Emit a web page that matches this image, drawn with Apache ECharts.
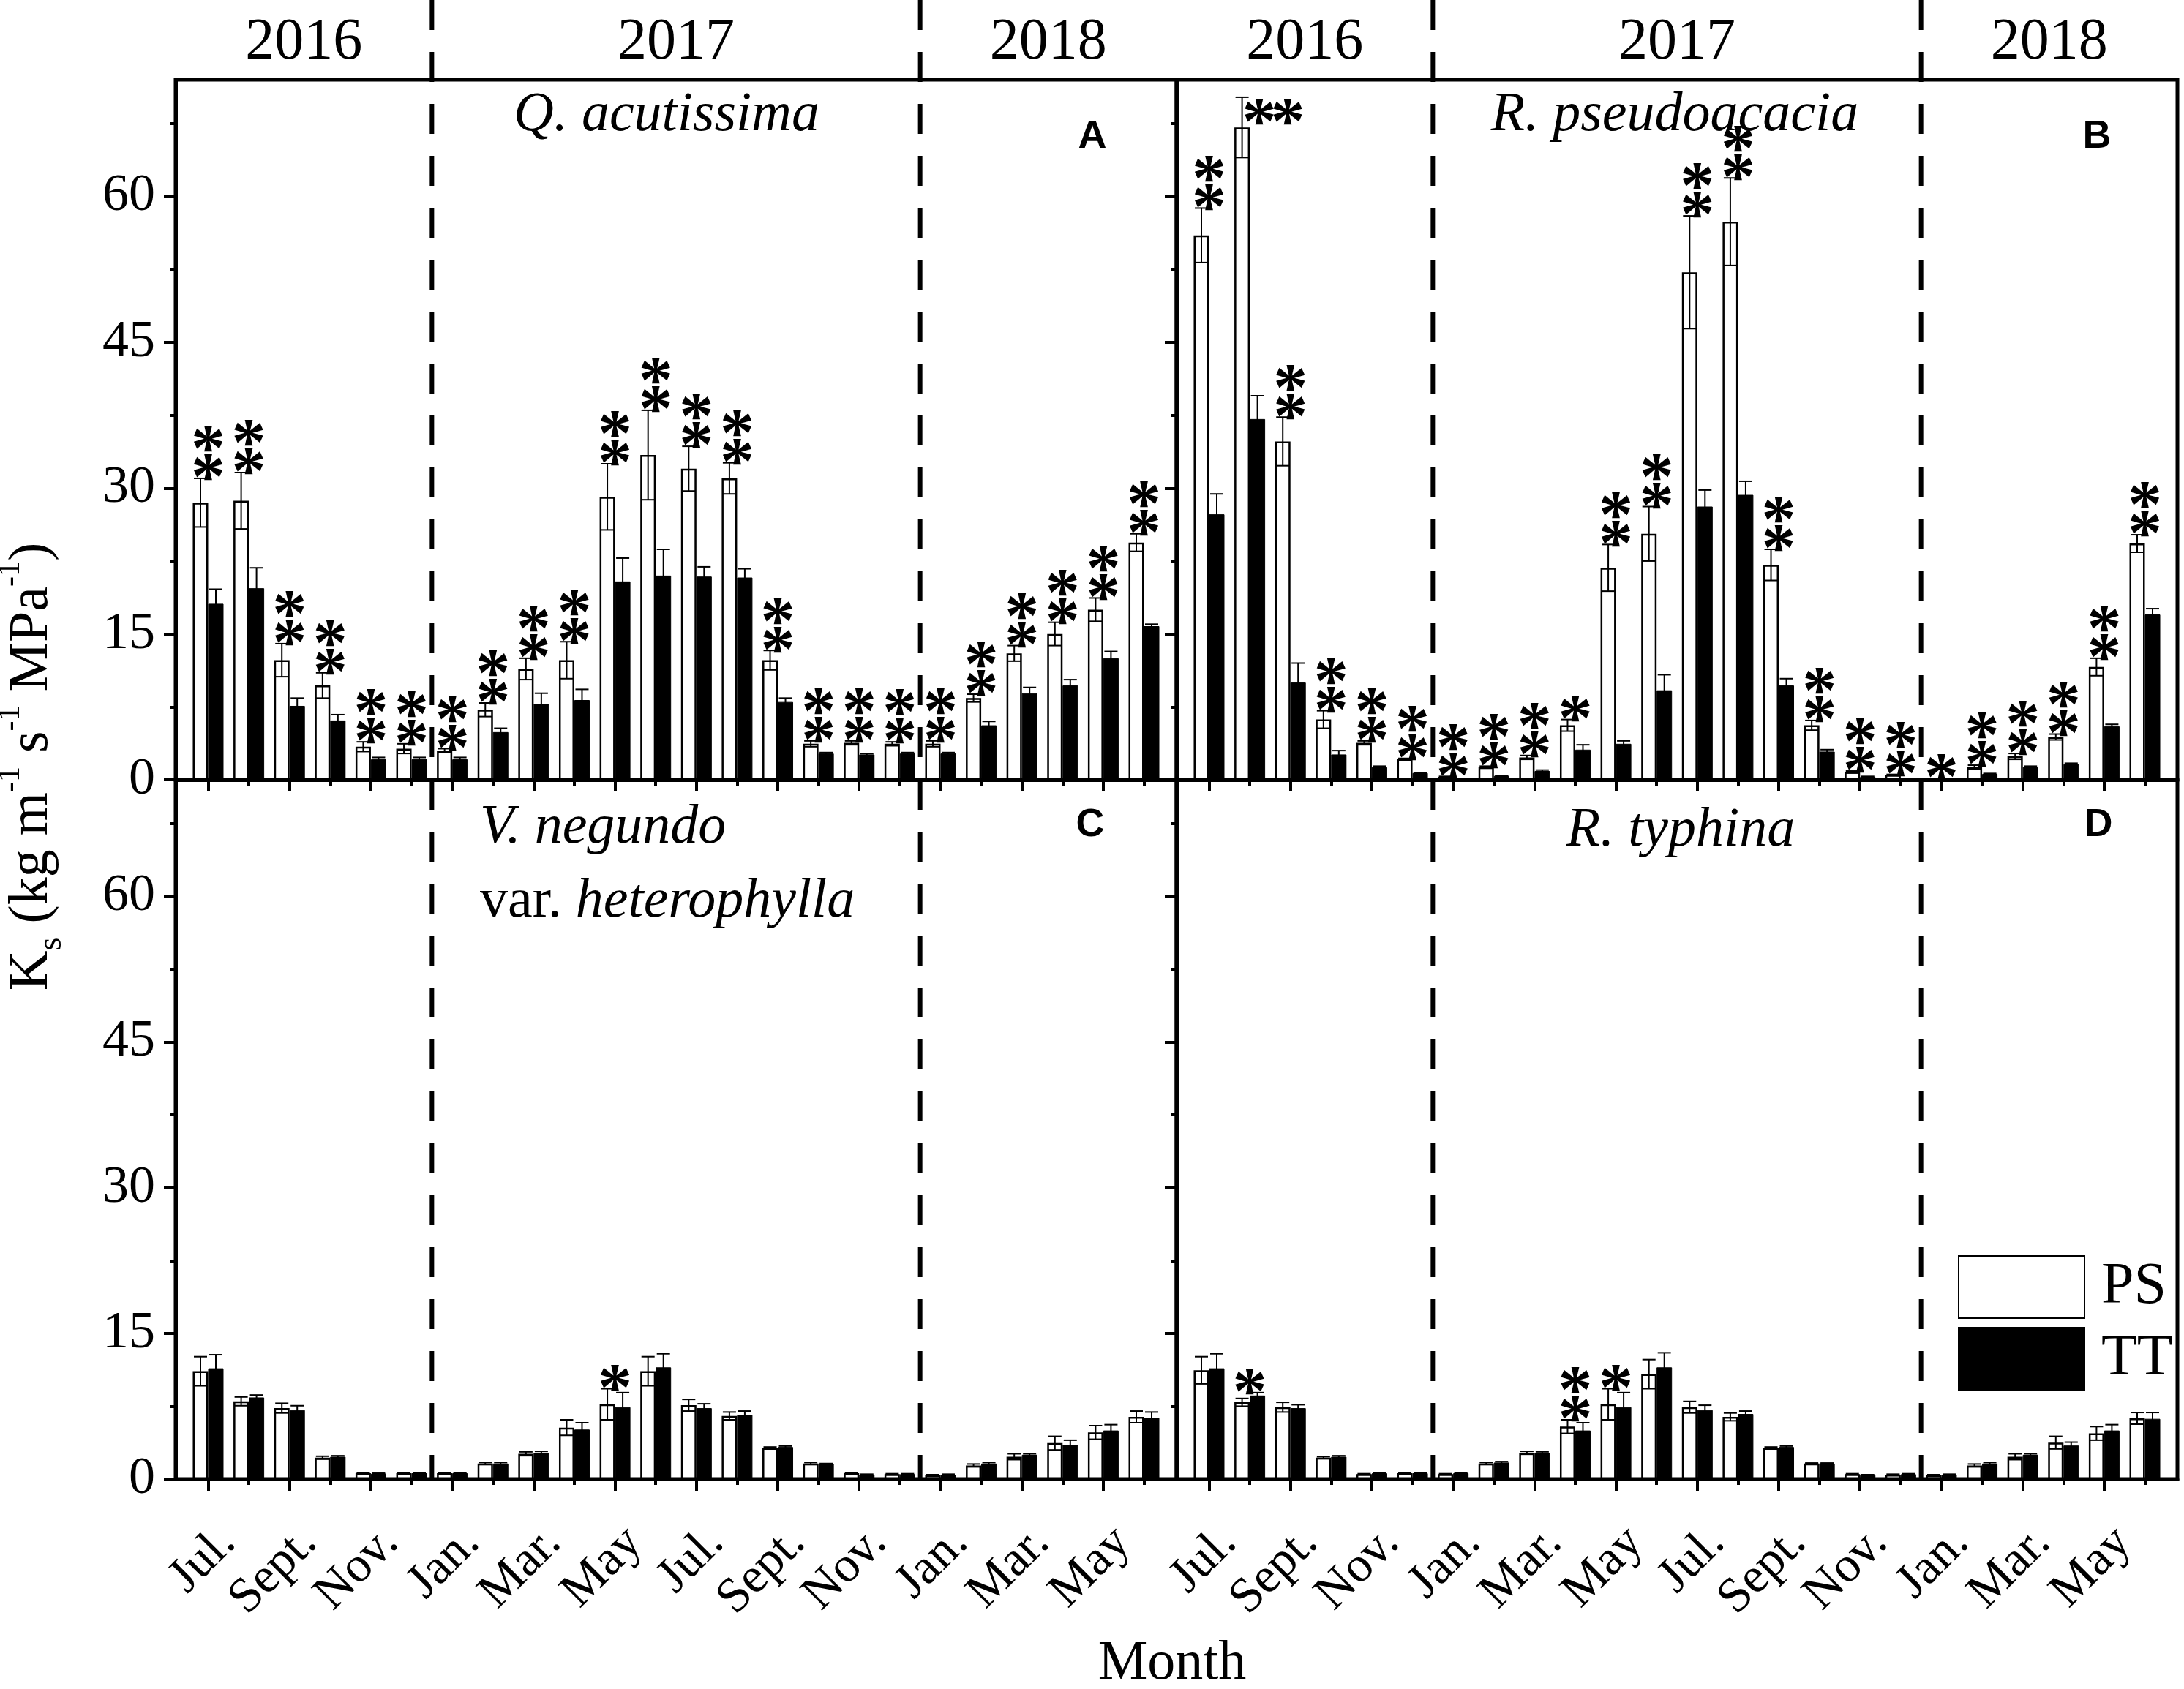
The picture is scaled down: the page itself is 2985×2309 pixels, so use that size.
<!DOCTYPE html>
<html>
<head>
<meta charset="utf-8">
<title>Ks of PS and TT trees</title>
<script src="https://cdn.jsdelivr.net/npm/echarts@6.0.0/dist/echarts.min.js"></script>
<style>
  html, body { margin: 0; padding: 0; background: #fff; }
  #chart { width: 2985px; height: 2309px; }
</style>
</head>
<body>
<div id="chart"></div>
<script>
const months = ['Jul.', 'Aug.', 'Sept.', 'Oct.', 'Nov.', 'Dec.',
  'Jan.', 'Feb.', 'Mar.', 'Apr.', 'May', 'Jun.', 'Jul.', 'Aug.', 'Sept.', 'Oct.', 'Nov.', 'Dec.',
  'Jan.', 'Feb.', 'Mar.', 'Apr.', 'May', 'Jun.'];
const years = ['2016', '2017', '2018'];
const yearStart = [0, 6, 18];
const yTicks = [0, 15, 30, 45, 60];
const yMinorTicks = [7.5, 22.5, 37.5, 52.5, 67.5];

// A - Q. acutissima
const psQa = [28.5, 28.7, 12.3, 9.7, 3.4, 3.2, 3.0, 7.2, 11.4, 12.3, 29.1, 33.4, 32.0, 31.0, 12.3, 3.7, 3.8, 3.7, 3.7, 8.4, 13.0, 15.0, 17.5, 24.4];
const psQaErr = [2.5, 2.9, 1.7, 1.3, 0.5, 0.5, 0.2, 0.7, 1.1, 1.9, 3.4, 4.6, 2.3, 1.6, 1.0, 0.3, 0.2, 0.2, 0.3, 0.4, 0.8, 1.2, 1.2, 0.9];
const ttQa = [18.1, 19.7, 7.6, 6.1, 2.1, 2.1, 2.1, 4.9, 7.8, 8.2, 20.4, 21.0, 20.9, 20.8, 8.0, 2.7, 2.6, 2.7, 2.7, 5.6, 8.9, 9.7, 12.5, 15.8];
const ttQaErr = [1.5, 2.1, 0.8, 0.6, 0.2, 0.2, 0.2, 0.4, 1.1, 1.1, 2.4, 2.7, 1.0, 0.9, 0.4, 0.1, 0.1, 0.1, 0.1, 0.4, 0.6, 0.6, 0.7, 0.2];
// 0 none, 1 "*", 2 "**" stacked, 3 "**" side by side
const sigQa = [2, 2, 2, 2, 2, 2, 2, 2, 2, 2, 2, 2, 2, 2, 2, 2, 2, 2, 2, 2, 2, 2, 2, 2];

// B - R. pseudoacacia
const psRp = [56.0, 67.1, 34.8, 6.2, 3.8, 2.1, 0.3, 1.3, 2.3, 5.6, 21.8, 25.3, 52.2, 57.4, 22.1, 5.6, 0.8, 0.5, 0.1, 1.3, 2.4, 4.4, 11.6, 24.3];
const psRpErr = [2.8, 3.1, 2.5, 0.9, 0.2, 0.1, 0.05, 0.1, 0.2, 0.6, 2.4, 2.8, 5.8, 4.5, 1.6, 0.5, 0.1, 0.05, 0.05, 0.2, 0.3, 0.3, 0.9, 0.9];
const ttRp = [27.3, 37.1, 10.0, 2.6, 1.3, 0.7, 0.1, 0.4, 0.9, 3.1, 3.7, 9.2, 28.1, 29.3, 9.7, 2.9, 0.3, 0.1, 0.05, 0.6, 1.3, 1.6, 5.5, 17.0];
const ttRpErr = [2.1, 2.4, 2.0, 0.4, 0.1, 0.05, 0.05, 0.05, 0.1, 0.5, 0.3, 1.6, 1.7, 1.4, 0.7, 0.2, 0.05, 0.05, 0.02, 0.05, 0.1, 0.1, 0.2, 0.6];
const sigRp = [2, 3, 2, 2, 2, 2, 2, 2, 2, 1, 2, 2, 2, 2, 2, 2, 2, 2, 1, 2, 2, 2, 2, 2];

// C - V. negundo var. heterophylla
const psVn = [11.1, 8.0, 7.3, 2.2, 0.6, 0.6, 0.6, 1.6, 2.6, 5.3, 7.7, 11.1, 7.6, 6.5, 3.2, 1.6, 0.6, 0.5, 0.4, 1.4, 2.3, 3.7, 4.8, 6.4];
const psVnErr = [1.5, 0.45, 0.5, 0.15, 0.05, 0.05, 0.05, 0.1, 0.2, 0.8, 1.6, 1.5, 0.6, 0.4, 0.1, 0.1, 0.05, 0.05, 0.05, 0.15, 0.3, 0.7, 0.7, 0.6];
const ttVn = [11.4, 8.4, 7.1, 2.3, 0.55, 0.6, 0.6, 1.6, 2.7, 5.1, 7.4, 11.5, 7.3, 6.6, 3.3, 1.55, 0.45, 0.5, 0.45, 1.6, 2.5, 3.5, 5.0, 6.3];
const ttVnErr = [1.4, 0.25, 0.45, 0.1, 0.05, 0.05, 0.05, 0.1, 0.15, 0.7, 1.5, 1.4, 0.45, 0.4, 0.1, 0.05, 0.05, 0.05, 0.05, 0.1, 0.1, 0.5, 0.6, 0.6];
const sigVn = [0, 0, 0, 0, 0, 0, 0, 0, 0, 0, 1, 0, 0, 0, 0, 0, 0, 0, 0, 0, 0, 0, 0, 0];

// D - R. typhina
const psRt = [11.2, 7.9, 7.4, 2.2, 0.5, 0.6, 0.5, 1.6, 2.7, 5.4, 7.7, 10.8, 7.4, 6.4, 3.2, 1.6, 0.5, 0.45, 0.4, 1.4, 2.3, 3.75, 4.7, 6.25];
const psRtErr = [1.4, 0.4, 0.5, 0.1, 0.05, 0.05, 0.05, 0.1, 0.15, 0.7, 1.6, 1.5, 0.6, 0.4, 0.1, 0.05, 0.05, 0.05, 0.05, 0.15, 0.3, 0.65, 0.7, 0.6];
const ttRt = [11.4, 8.6, 7.3, 2.3, 0.6, 0.6, 0.6, 1.7, 2.7, 5.0, 7.4, 11.5, 7.1, 6.7, 3.3, 1.6, 0.4, 0.5, 0.45, 1.6, 2.5, 3.45, 5.0, 6.2];
const ttRtErr = [1.5, 0.3, 0.35, 0.1, 0.05, 0.05, 0.05, 0.1, 0.1, 0.8, 1.5, 1.5, 0.5, 0.3, 0.1, 0.05, 0.05, 0.05, 0.05, 0.1, 0.1, 0.35, 0.6, 0.65];
const sigRt = [0, 1, 0, 0, 0, 0, 0, 0, 0, 2, 1, 0, 0, 0, 0, 0, 0, 0, 0, 0, 0, 0, 0, 0];

const SERIF = '"Liberation Serif", "Times New Roman", serif';
const SANS = '"Liberation Sans", Arial, sans-serif';
const X_MIN = -0.8;
const X_MAX = months.length - 1 + 0.8;
const BAR_W = 21;
const GRID_W = 1368;

const panels = [
  { ps: psQa, psErr: psQaErr, tt: ttQa, ttErr: ttQaErr, sig: sigQa, left: 240, top: 109, height: 957, firstCol: true, topRow: true },
  { ps: psRp, psErr: psRpErr, tt: ttRp, ttErr: ttRpErr, sig: sigRp, left: 1608, top: 109, height: 957, firstCol: false, topRow: true },
  { ps: psVn, psErr: psVnErr, tt: ttVn, ttErr: ttVnErr, sig: sigVn, left: 240, top: 1066, height: 956, firstCol: true, topRow: false },
  { ps: psRt, psErr: psRtErr, tt: ttRt, ttErr: ttRtErr, sig: sigRt, left: 1608, top: 1066, height: 956, firstCol: false, topRow: false }
];

const majorIdx = months.map((m, i) => i).filter(i => i % 2 === 0);
const minorIdx = months.map((m, i) => i).filter(i => i % 2 === 1);
const breaks = yearStart.slice(1).map(s => s - 0.5);
const yearEdges = [X_MIN].concat(breaks, [X_MAX]);

function errorBars(offset) {
  return function (params, api) {
    const i = api.value(0), v = api.value(1), e = api.value(2);
    const x = api.coord([i, 0])[0] + offset;
    const yHi = api.coord([i, v + e])[1];
    const yLo = api.coord([i, Math.max(v - e, 0)])[1];
    const cap = 9;
    const style = { stroke: '#000', lineWidth: 2 };
    return {
      type: 'group',
      children: [
        { type: 'line', shape: { x1: x, y1: yHi, x2: x, y2: yLo }, style },
        { type: 'line', shape: { x1: x - cap, y1: yHi, x2: x + cap, y2: yHi }, style },
        { type: 'line', shape: { x1: x - cap, y1: yLo, x2: x + cap, y2: yLo }, style }
      ]
    };
  };
}

// the asterisk glyph sits high in its box, so y is pushed down a bit
function star(x, y) {
  return {
    type: 'text', x, y: y + 24,
    style: { text: '*', fontSize: 94, fontWeight: 'bold', fontFamily: SERIF, fill: '#000', align: 'center', verticalAlign: 'middle' }
  };
}

function stars(params, api) {
  const code = api.value(2);
  const p = api.coord([api.value(0), api.value(1)]);
  if (code === 3) {
    return { type: 'group', children: [star(p[0] + 13, p[1] + 15), star(p[0] + 52, p[1] + 15)] };
  }
  const kids = [star(p[0], p[1] - 20)];
  if (code === 2) kids.push(star(p[0], p[1] - 59));
  return { type: 'group', children: kids };
}

function dividers(fromTop) {
  return function (params, api) {
    const cs = params.coordSys;
    const x = api.coord([api.value(0), 0])[0];
    return {
      type: 'line',
      shape: { x1: x, y1: fromTop ? 0 : cs.y, x2: x, y2: cs.y + cs.height },
      style: { stroke: '#000', lineWidth: 6, lineDash: [41, 30] }
    };
  };
}

function yearLabels(params, api) {
  const cs = params.coordSys;
  const a = api.coord([api.value(0), 0])[0];
  const b = api.coord([api.value(1), 0])[0];
  return {
    type: 'text', x: (a + b) / 2, y: cs.y - 50,
    style: { text: years[params.dataIndex], fontSize: 80, fontFamily: SERIF, fill: '#000', align: 'center', verticalAlign: 'middle' }
  };
}

function label(text, x, y, extra) {
  return {
    type: 'text', x, y,
    style: Object.assign({ text, fontSize: 76, fontFamily: SERIF, fill: '#000', align: 'center', verticalAlign: 'middle' }, extra)
  };
}

const option = {
  animation: false,
  backgroundColor: '#fff',
  grid: [],
  xAxis: [],
  yAxis: [],
  series: [],
  legend: {
    data: ['PS', 'TT'],
    orient: 'vertical',
    left: 2671,
    top: 1711,
    itemWidth: 172,
    itemHeight: 85,
    itemGap: 11,
    icon: 'rect',
    selectedMode: false,
    textStyle: { fontSize: 80, fontFamily: SERIF, color: '#000', padding: [0, 0, 0, 18] }
  },
  graphic: [
    {
      type: 'text', x: 44, y: 1048, rotation: Math.PI / 2,
      style: {
        text: '{b|K}{sub|s}{b| (kg m}{sup|-1}{b| s}{sup|-1}{b| MPa}{sup|-1}{b|)}',
        align: 'center', verticalAlign: 'middle', fill: '#000',
        rich: {
          b: { fontSize: 76, fontFamily: SERIF, lineHeight: 100 },
          sup: { fontSize: 42, fontFamily: SERIF, lineHeight: 80, verticalAlign: 'top' },
          sub: { fontSize: 46, fontFamily: SERIF, lineHeight: 36, verticalAlign: 'bottom' }
        }
      }
    },
    label('Month', 1602, 2275, { fontSize: 76 }),
    label('Q. acutissima', 911, 158, { fontStyle: 'italic' }),
    label('R. pseudoacacia', 2289, 158, { fontStyle: 'italic' }),
    label('V. negundo', 656, 1132, { fontStyle: 'italic', align: 'left' }),
    {
      type: 'text', x: 656, y: 1233,
      style: {
        text: '{n|var. }{i|heterophylla}', fill: '#000', align: 'left', verticalAlign: 'middle',
        rich: {
          n: { fontSize: 76, fontFamily: SERIF },
          i: { fontSize: 76, fontFamily: SERIF, fontStyle: 'italic' }
        }
      }
    },
    label('R. typhina', 2297, 1136, { fontStyle: 'italic' }),
    label('A', 1493, 187, { fontSize: 54, fontWeight: 'bold', fontFamily: SANS }),
    label('B', 2866, 187, { fontSize: 54, fontWeight: 'bold', fontFamily: SANS }),
    label('C', 1490, 1128, { fontSize: 54, fontWeight: 'bold', fontFamily: SANS }),
    label('D', 2868, 1128, { fontSize: 54, fontWeight: 'bold', fontFamily: SANS })
  ]
};

panels.forEach((p, k) => {
  option.grid.push({
    left: p.left, top: p.top, width: GRID_W, height: p.height,
    show: true, borderColor: '#000', borderWidth: 5, backgroundColor: 'transparent'
  });

  // main x axis: long ticks + month labels, minor: short ticks
  option.xAxis.push({
    gridIndex: k, type: 'value', position: 'bottom', min: X_MIN, max: X_MAX, z: 10,
    splitLine: { show: false },
    axisLine: { show: true, onZero: false, lineStyle: { color: '#000', width: 5 } },
    axisTick: { show: true, customValues: majorIdx, length: 16, lineStyle: { color: '#000', width: 4 } },
    axisLabel: {
      show: !p.topRow, customValues: majorIdx, rotate: 45, margin: 50,
      showMinLabel: true, showMaxLabel: true, hideOverlap: false,
      verticalAlign: 'top', lineHeight: 76,
      fontSize: 68, fontFamily: SERIF, color: '#000',
      formatter: v => months[Math.round(v)]
    }
  });
  option.xAxis.push({
    gridIndex: k, type: 'value', position: 'bottom', min: X_MIN, max: X_MAX, z: 10,
    splitLine: { show: false },
    axisLine: { show: false, onZero: false },
    axisTick: { show: true, customValues: minorIdx, length: 8, lineStyle: { color: '#000', width: 4 } },
    axisLabel: { show: false }
  });

  option.yAxis.push({
    gridIndex: k, type: 'value', position: 'left', min: 0, max: 72, z: 10,
    splitLine: { show: false },
    axisLine: { show: true, onZero: false, lineStyle: { color: '#000', width: 5 } },
    axisTick: { show: true, customValues: yTicks, length: 16, lineStyle: { color: '#000', width: 4 } },
    axisLabel: { show: p.firstCol, customValues: yTicks, margin: 28, fontSize: 72, fontFamily: SERIF, color: '#000' }
  });
  option.yAxis.push({
    gridIndex: k, type: 'value', position: 'left', min: 0, max: 72, z: 10,
    splitLine: { show: false },
    axisLine: { show: false, onZero: false },
    axisTick: { show: true, customValues: yMinorTicks, length: 7, lineStyle: { color: '#000', width: 4 } },
    axisLabel: { show: false }
  });

  const xi = 2 * k, yi = 2 * k;
  option.series.push({
    type: 'bar', name: 'PS', xAxisIndex: xi, yAxisIndex: yi,
    data: p.ps.map((v, i) => [i, v]),
    barWidth: BAR_W, barGap: '0%',
    itemStyle: { color: '#fff', borderColor: '#000', borderWidth: 2.5 }
  });
  option.series.push({
    type: 'bar', name: 'TT', xAxisIndex: xi, yAxisIndex: yi,
    data: p.tt.map((v, i) => [i, v]),
    barWidth: BAR_W, barGap: '0%',
    itemStyle: { color: '#000', borderColor: '#000', borderWidth: 1 }
  });
  option.series.push({
    type: 'custom', xAxisIndex: xi, yAxisIndex: yi, z: 3, silent: true,
    renderItem: errorBars(-BAR_W / 2),
    data: p.ps.map((v, i) => [i, v, p.psErr[i]])
  });
  option.series.push({
    type: 'custom', xAxisIndex: xi, yAxisIndex: yi, z: 3, silent: true,
    renderItem: errorBars(BAR_W / 2),
    data: p.tt.map((v, i) => [i, v, p.ttErr[i]])
  });
  option.series.push({
    type: 'custom', xAxisIndex: xi, yAxisIndex: yi, z: 4, silent: true, clip: false,
    renderItem: stars,
    data: p.sig.map((s, i) => [i, Math.max(p.ps[i] + p.psErr[i], p.tt[i] + p.ttErr[i]), s]).filter(d => d[2] > 0)
  });
  option.series.push({
    type: 'custom', xAxisIndex: xi, yAxisIndex: yi, z: 5, silent: true, clip: false,
    renderItem: dividers(p.topRow),
    data: breaks.map(b => [b, 0])
  });
  if (p.topRow) {
    option.series.push({
      type: 'custom', xAxisIndex: xi, yAxisIndex: yi, z: 5, silent: true, clip: false,
      renderItem: yearLabels,
      data: years.map((y, j) => [yearEdges[j], yearEdges[j + 1]])
    });
  }
});

const chart = echarts.init(document.getElementById('chart'));
chart.setOption(option);
window.addEventListener('resize', () => chart.resize());
</script>
</body>
</html>
